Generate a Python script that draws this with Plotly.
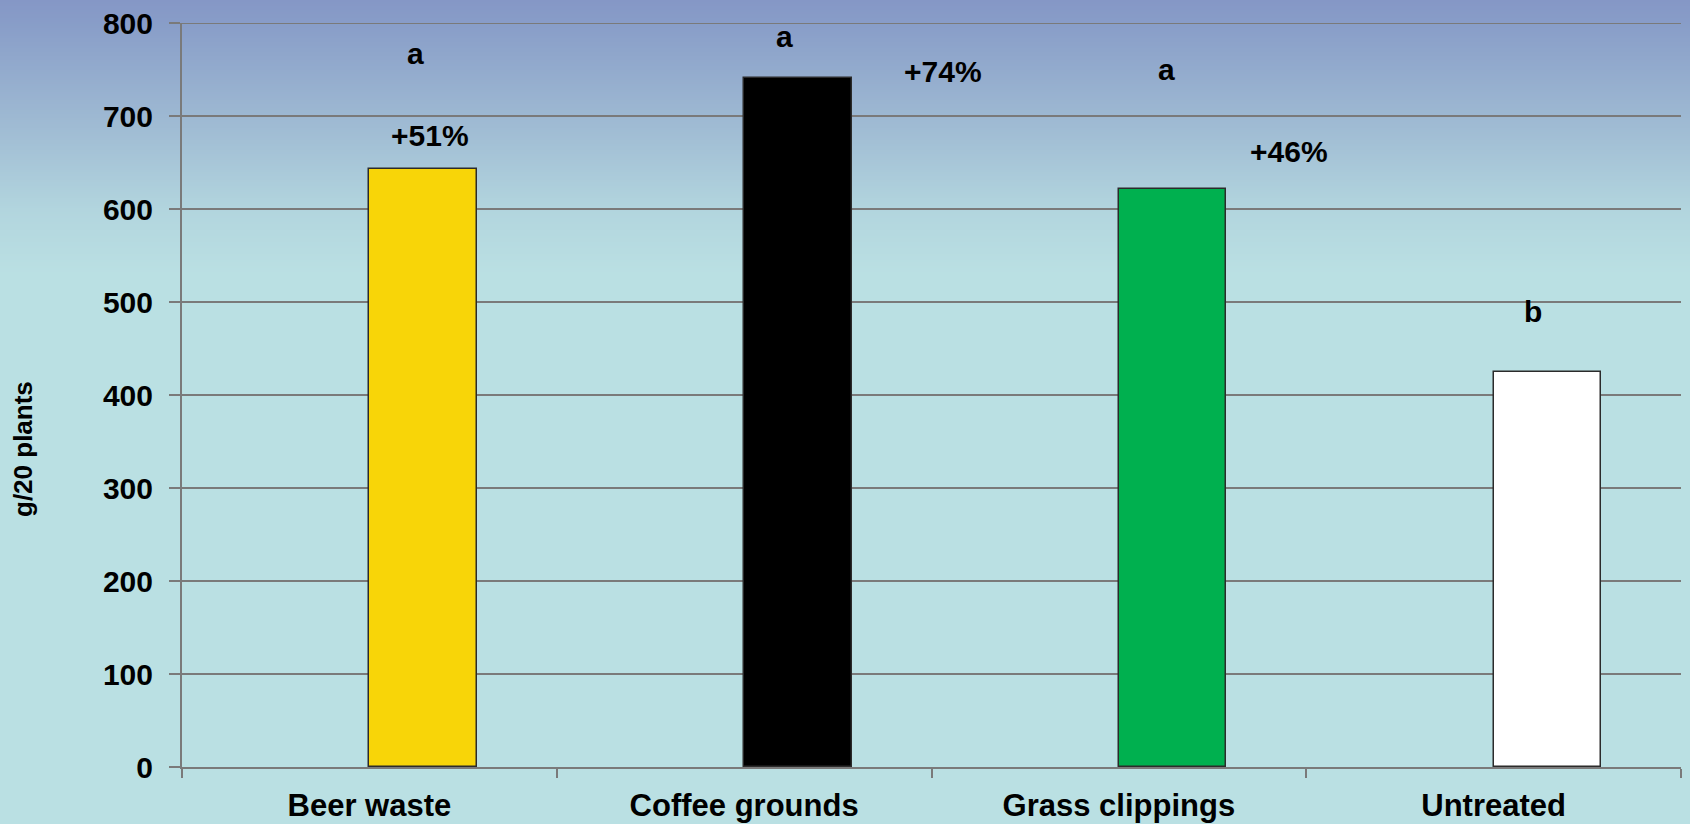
import plotly.graph_objects as go

# Fresh weight per 20 plants by soil amendment
categories = ["Beer waste", "Coffee grounds", "Grass clippings", "Untreated"]
weights = [643, 741, 622, 425]
bar_colors = ["#f8d508", "#000000", "#00b04f", "#ffffff"]
letters = ["a", "a", "a", "b"]

control = weights[-1]
pct_labels = ["+%d%%" % round((w / control - 1) * 100) for w in weights[:-1]]

W, H = 1690, 824
ML, MR, MT, MB = 182, 9, 23, 57
plot_w = W - ML - MR
plot_h = H - MT - MB

FAMILY = "Liberation Sans, Arial, sans-serif"
GRID = "#7a7a7a"

fig = go.Figure()
fig.add_trace(go.Bar(
    x=categories, y=weights,
    marker=dict(color=bar_colors, line=dict(color="#2b2b2b", width=1.5)),
    width=0.287, offset=0,
    hoverinfo="x+y",
))

# Background: vertical gradient from lavender-blue to pale cyan
stops = [(0, (133, 151, 198)), (23, (136, 157, 200)), (116, (157, 184, 210)),
         (210, (178, 213, 222)), (275, (186, 224, 227)), (H, (186, 224, 227))]


def color_at(py):
    for (y0, c0), (y1, c1) in zip(stops[:-1], stops[1:]):
        if y0 <= py <= y1:
            t = (py - y0) / (y1 - y0) if y1 > y0 else 0
            return "rgb(%d,%d,%d)" % tuple(round(a + (b - a) * t) for a, b in zip(c0, c1))
    return "rgb(186,224,227)"


def to_paper_y(py):
    return (H - MB - py) / plot_h


shapes = []
step = 2
py = 0
while py < 280:
    shapes.append(dict(type="rect", xref="paper", yref="paper", layer="below",
                       x0=-ML / plot_w, x1=(W - ML) / plot_w,
                       y0=to_paper_y(py + step + 0.5), y1=to_paper_y(py),
                       fillcolor=color_at(py + step / 2), line=dict(width=0)))
    py += step
shapes.append(dict(type="rect", xref="paper", yref="paper", layer="below",
                   x0=-ML / plot_w, x1=(W - ML) / plot_w,
                   y0=to_paper_y(H), y1=to_paper_y(280),
                   fillcolor=color_at(300), line=dict(width=0)))
# top gridline at the upper end of the value range
shapes.append(dict(type="line", xref="paper", yref="y", layer="below",
                   x0=0, x1=1, y0=800, y1=800, line=dict(color=GRID, width=2)))

font_bold = dict(family=FAMILY, size=30, color="#000000")

# Significance letters and percent change vs. untreated
letter_y = [767, 786, 750, 490]
letter_dx = [46, 40, 48, 39]
pct_y = [679, 748, 662]
pct_dx = [61, 199, 170]
cat_px = plot_w / len(categories)

annotations = []
for i, (lt, y, dx) in enumerate(zip(letters, letter_y, letter_dx)):
    annotations.append(dict(x=i + dx / cat_px, y=y, xref="x", yref="y", text="<b>%s</b>" % lt,
                            showarrow=False, font=font_bold, xanchor="center", yanchor="middle"))
for i, (lb, y, dx) in enumerate(zip(pct_labels, pct_y, pct_dx)):
    annotations.append(dict(x=i + dx / cat_px, y=y, xref="x", yref="y", text="<b>%s</b>" % lb,
                            showarrow=False, font=font_bold, xanchor="center", yanchor="middle"))
annotations.append(dict(x=(23 - ML) / plot_w, y=to_paper_y(449), xref="paper", yref="paper",
                        text="<b>g/20 plants</b>", showarrow=False, textangle=-90,
                        font=dict(family=FAMILY, size=26, color="#000000"),
                        xanchor="center", yanchor="middle"))

fig.update_layout(
    width=W, height=H,
    margin=dict(l=ML, r=MR, t=MT, b=MB, pad=0, autoexpand=False),
    paper_bgcolor="rgb(186,224,227)",
    plot_bgcolor="rgba(0,0,0,0)",
    showlegend=False,
    bargap=0,
    shapes=shapes,
    annotations=annotations,
    font=font_bold,
)
fig.update_xaxes(
    type="category", tickson="boundaries", ticks="outside", ticklen=9, tickwidth=2,
    tickcolor=GRID, showline=True, linecolor=GRID, linewidth=2, automargin=False,
    showgrid=False, tickfont=dict(family=FAMILY, size=31, color="#000000"),
    tickprefix="<b>", ticksuffix="</b>", ticklabelstandoff=10,
)
fig.update_yaxes(
    range=[0, 800], dtick=100, ticks="outside", ticklen=11, tickwidth=2,
    tickcolor=GRID, showline=True, linecolor=GRID, linewidth=2, automargin=False,
    showgrid=True, gridcolor=GRID, gridwidth=2, zeroline=False,
    tickfont=dict(family=FAMILY, size=30, color="#000000"),
    tickprefix="<b>", ticksuffix="</b>", ticklabelstandoff=10,
)

fig.write_html("out.html")
